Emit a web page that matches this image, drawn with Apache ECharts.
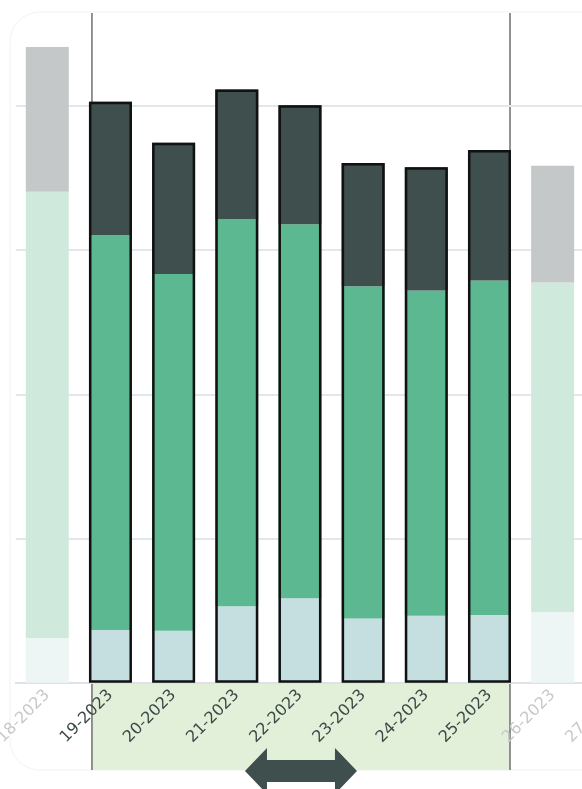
<!DOCTYPE html>
<html>
<head>
<meta charset="utf-8">
<script src="https://cdn.jsdelivr.net/npm/echarts@6/dist/echarts.min.js"></script>
<style>
html,body{margin:0;padding:0;background:#fff;overflow:hidden;width:582px;height:789px;}
#chart{width:660px;height:789px;}
</style>
</head>
<body>
<div id="chart"></div>
<script>
// ---- data ----
const categories = ['18-2023','19-2023','20-2023','21-2023','22-2023','23-2023','24-2023','25-2023','26-2023','27-2023'];
const bottomValues = [6.2, 7.3, 7.2, 10.6, 11.7, 8.9, 9.3, 9.4, 9.8, 9.5];
const middleValues = [61.9, 54.8, 49.5, 53.7, 51.9, 46.1, 45.1, 46.4, 45.7, 48.0];
const topValues    = [20.1, 18.5, 18.2, 18.0, 16.5, 17.1, 17.1, 18.1, 16.2, 17.0];
const selStart = 1, selEnd = 7; // selected window: 19-2023 .. 25-2023

// ---- styles ----
const colors = {
  bottom: ['#c5dfe0', '#edf5f5'],
  middle: ['#5bb891', '#cfe9dd'],
  top:    ['#3e4f4d', '#c5c8c9']
};
const inSel = i => i >= selStart && i <= selEnd;

function seriesData(vals, key) {
  return vals.map((v, i) => ({
    value: v,
    itemStyle: { color: colors[key][inSel(i) ? 0 : 1] }
  }));
}
const totals = categories.map((c, i) => +(bottomValues[i] + middleValues[i] + topValues[i]).toFixed(2));

const chart = echarts.init(document.getElementById('chart'), null, { renderer: 'canvas' });

const BAR_W = 43;
chart.setOption({
  animation: false,
  grid: { left: 15.7, width: 631.7, top: 106, bottom: 106.3, containLabel: false, outerBoundsMode: 'none' },
  xAxis: {
    type: 'category',
    data: categories.map((c, i) => ({
      value: c,
      textStyle: { color: inSel(i) ? '#3b4a47' : '#c6c8c9' }
    })),
    axisLine: { show: true, lineStyle: { color: '#dde2e6', width: 2 } },
    axisTick: { show: false },
    axisLabel: { rotate: 45, fontSize: 16, fontFamily: 'DejaVu Sans', margin: 10,
      verticalAlign: 'top', lineHeight: 40, interval: 0 }
  },
  yAxis: {
    type: 'value', min: 0, max: 80, interval: 20,
    axisLabel: { show: false },
    axisLine: { show: false }, axisTick: { show: false },
    splitLine: { lineStyle: { color: '#e3e7ea', width: 2 } }
  },
  series: [
    { name: 'Bottom', type: 'bar', stack: 'total', barWidth: BAR_W, clip: false, data: seriesData(bottomValues, 'bottom') },
    { name: 'Middle', type: 'bar', stack: 'total', barWidth: BAR_W, clip: false, data: seriesData(middleValues, 'middle') },
    { name: 'Top', type: 'bar', stack: 'total', barWidth: BAR_W, clip: false, data: seriesData(topValues, 'top') },
    { name: 'Outline', type: 'bar', barWidth: BAR_W, barGap: '-100%', z: 5, silent: true, clip: false,
      data: totals.map((t, i) => inSel(i) ? { value: t } : '-'),
      itemStyle: { color: 'rgba(0,0,0,0)', borderColor: '#111', borderWidth: 2.5 } }
  ]
});

// ---- selection window overlay (computed from axis pixel positions) ----
const c1 = chart.convertToPixel({ xAxisIndex: 0 }, selStart);
const c2 = chart.convertToPixel({ xAxisIndex: 0 }, selStart + 1);
const cEnd = chart.convertToPixel({ xAxisIndex: 0 }, selEnd);
const band = c2 - c1;
const axisY = chart.convertToPixel({ yAxisIndex: 0 }, 0);
const xL = c1 - 0.293 * band;
const xR = cEnd + 0.325 * band;
const yTop = 13, yBot = 770;
const mid = (xL + xR) / 2, ay = 771;

chart.setOption({
  graphic: [
    { type: 'rect', z: -20, shape: { x: 10, y: 12, width: 640, height: 758, r: 30 },
      style: { fill: 'none', stroke: '#f2f2f2', lineWidth: 1 } },
    { type: 'rect', z: -10, shape: { x: xL, y: axisY + 1, width: xR - xL, height: yBot - axisY - 1 },
      style: { fill: '#e2efd9' } },
    { type: 'line', z: -5, shape: { x1: xL, y1: yTop, x2: xL, y2: yBot },
      style: { stroke: '#6f6f6f', lineWidth: 1.5 } },
    { type: 'line', z: -5, shape: { x1: xR, y1: yTop, x2: xR, y2: yBot },
      style: { stroke: '#6f6f6f', lineWidth: 1.5 } },
    { type: 'polygon', z: 100,
      shape: { points: [
        [mid - 56, ay], [mid - 34, ay - 23], [mid - 34, ay - 11], [mid + 34, ay - 11],
        [mid + 34, ay - 23], [mid + 56, ay], [mid + 34, ay + 23], [mid + 34, ay + 11],
        [mid - 34, ay + 11], [mid - 34, ay + 23]
      ] },
      style: { fill: '#3e4f4d' } }
  ]
});
</script>
</body>
</html>
